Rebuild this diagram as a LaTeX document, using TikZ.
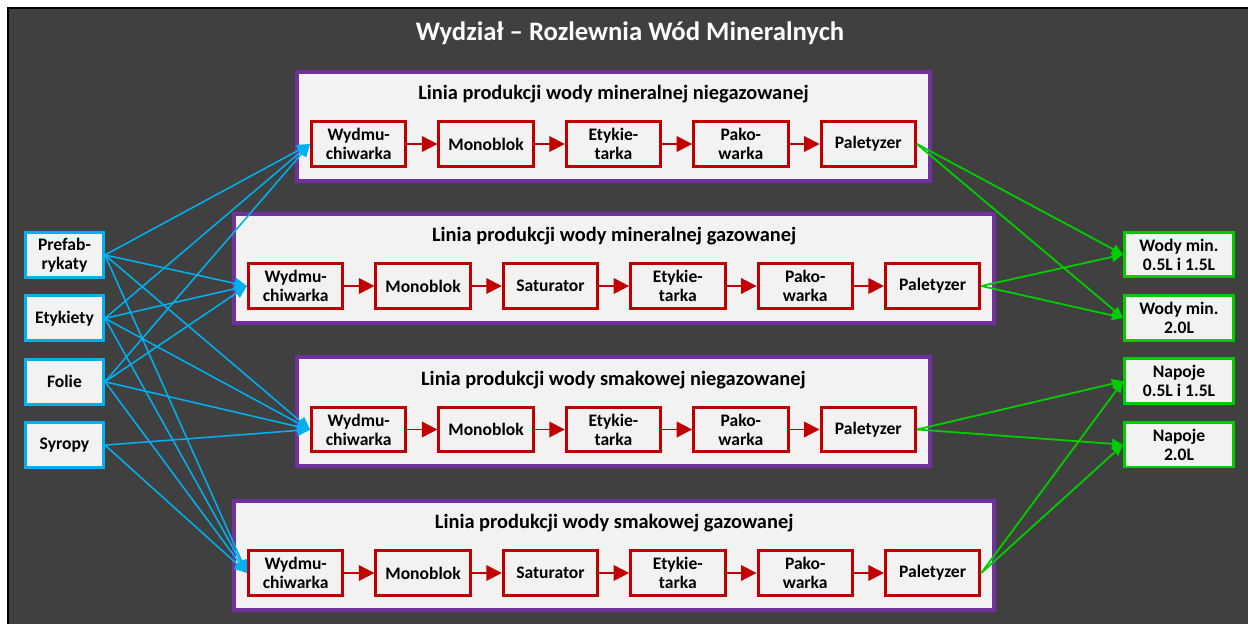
\documentclass[tikz,border=0pt]{standalone}
\usepackage{fontspec}
\setmainfont{Carlito}
\usepackage{xcolor}
\usetikzlibrary{arrows.meta,calc,fit,positioning,backgrounds}
\definecolor{bgdark}{HTML}{404040}
\definecolor{paper}{HTML}{F2F2F2}
\definecolor{lanepurple}{HTML}{7030A0}
\definecolor{machred}{HTML}{C00000}
\definecolor{feedblue}{HTML}{00B0F0}
\definecolor{prodgreen}{HTML}{00CC00}
\tikzset{
  box/.style={draw,fill=paper,line width=2.1pt,inner sep=1pt,align=center,
              text=black,font=\fontsize{12.5}{13.5}\selectfont\bfseries},
  machine/.style={box,draw=machred,minimum width=2.36cm,minimum height=1.12cm},
  feedbox/.style={box,draw=feedblue,minimum width=1.95cm,minimum height=1.12cm},
  prodbox/.style={box,draw=prodgreen,minimum width=2.72cm,minimum height=1.12cm},
  lane/.style={draw=lanepurple,fill=paper,line width=2.8pt,inner sep=0.325cm},
  lanetitle/.style={inner sep=0pt,font=\fontsize{14.5}{16}\selectfont\bfseries},
  stepflow/.style={-{Triangle[length=11pt,width=11pt]},line width=1.4pt,draw=machred},
  feedflow/.style={-{Triangle[length=9pt,width=8pt]},line width=1.1pt,draw=feedblue},
  prodflow/.style={-{Triangle[length=8pt,width=7pt]},line width=1.3pt,draw=prodgreen}
}

\begin{document}
\begin{tikzpicture}[x=0.025cm,y=-0.025cm,node distance=0.39cm and 0.75cm]
    \useasboundingbox (0,0) rectangle (1248,624);
    \node[font=\fontsize{19}{22}\selectfont\bfseries,text=white] (title) at (630,33) {Wydział – Rozlewnia Wód Mineralnych};
    % linia 1
    \node[machine,anchor=west] (wy1) at (310,144) {Wydmu-\\chiwarka};
    \node[machine,right=of wy1] (mo1) {Monoblok};
    \node[machine,right=of mo1] (et1) {Etykie-\\tarka};
    \node[machine,right=of et1] (pk1) {Pako-\\warka};
    \node[machine,right=of pk1] (pa1) {Paletyzer};
    \node[lanetitle] (tl1) at ($(wy1.north)!0.5!(pa1.north)+(0,-26)$) {Linia produkcji wody mineralnej niegazowanej};
    % linia 2
    \node[machine,anchor=west] (wy2) at (247,286) {Wydmu-\\chiwarka};
    \node[machine,right=of wy2] (mo2) {Monoblok};
    \node[machine,right=of mo2] (sa2) {Saturator};
    \node[machine,right=of sa2] (et2) {Etykie-\\tarka};
    \node[machine,right=of et2] (pk2) {Pako-\\warka};
    \node[machine,right=of pk2] (pa2) {Paletyzer};
    \node[lanetitle] (tl2) at ($(wy2.north)!0.5!(pa2.north)+(0,-26)$) {Linia produkcji wody mineralnej gazowanej};
    % linia 3
    \node[machine,anchor=west] (wy3) at (310,429.5) {Wydmu-\\chiwarka};
    \node[machine,right=of wy3] (mo3) {Monoblok};
    \node[machine,right=of mo3] (et3) {Etykie-\\tarka};
    \node[machine,right=of et3] (pk3) {Pako-\\warka};
    \node[machine,right=of pk3] (pa3) {Paletyzer};
    \node[lanetitle] (tl3) at ($(wy3.north)!0.5!(pa3.north)+(0,-26)$) {Linia produkcji wody smakowej niegazowanej};
    % linia 4
    \node[machine,anchor=west] (wy4) at (247,573) {Wydmu-\\chiwarka};
    \node[machine,right=of wy4] (mo4) {Monoblok};
    \node[machine,right=of mo4] (sa4) {Saturator};
    \node[machine,right=of sa4] (et4) {Etykie-\\tarka};
    \node[machine,right=of et4] (pk4) {Pako-\\warka};
    \node[machine,right=of pk4] (pa4) {Paletyzer};
    \node[lanetitle] (tl4) at ($(wy4.north)!0.5!(pa4.north)+(0,-26)$) {Linia produkcji wody smakowej gazowanej};
    % surowce i wyroby
    \node[feedbox] (pre) at (64.5,255) {Prefab-\\rykaty};
    \node[feedbox,below=of pre] (ety) {Etykiety};
    \node[feedbox,below=of ety] (fol) {Folie};
    \node[feedbox,below=of fol] (syr) {Syropy};
    \node[prodbox] (wm1) at (1179,254.5) {Wody min.\\0.5L i 1.5L};
    \node[prodbox,below=of wm1] (wm2) {Wody min.\\2.0L};
    \node[prodbox,below=of wm2] (np1) {Napoje\\0.5L i 1.5L};
    \node[prodbox,below=of np1] (np2) {Napoje\\2.0L};
    \begin{scope}[on background layer]
      \fill[bgdark] (8,8) rectangle (1260,640);
      \draw[black,line width=1.2pt] (8,640) -- (8,8) -- (1260,8);
      \node[lane,fit=(wy1)(pa1)(tl1)] (ln1) {};
      \node[lane,fit=(wy2)(pa2)(tl2)] (ln2) {};
      \node[lane,fit=(wy3)(pa3)(tl3)] (ln3) {};
      \node[lane,fit=(wy4)(pa4)(tl4)] (ln4) {};
    \end{scope}
    \draw[stepflow] (wy1)--(mo1); \draw[stepflow] (mo1)--(et1); \draw[stepflow] (et1)--(pk1); \draw[stepflow] (pk1)--(pa1);
    \draw[stepflow] (wy2)--(mo2); \draw[stepflow] (mo2)--(sa2); \draw[stepflow] (sa2)--(et2); \draw[stepflow] (et2)--(pk2); \draw[stepflow] (pk2)--(pa2);
    \draw[stepflow] (wy3)--(mo3); \draw[stepflow] (mo3)--(et3); \draw[stepflow] (et3)--(pk3); \draw[stepflow] (pk3)--(pa3);
    \draw[stepflow] (wy4)--(mo4); \draw[stepflow] (mo4)--(sa4); \draw[stepflow] (sa4)--(et4); \draw[stepflow] (et4)--(pk4); \draw[stepflow] (pk4)--(pa4);
    \draw[feedflow] (pre.east)--(wy1.west); \draw[feedflow] (pre.east)--(wy2.west); \draw[feedflow] (pre.east)--(wy3.west); \draw[feedflow] (pre.east)--(wy4.west);
    \draw[feedflow] (ety.east)--(wy1.west); \draw[feedflow] (ety.east)--(wy2.west); \draw[feedflow] (ety.east)--(wy3.west); \draw[feedflow] (ety.east)--(wy4.west);
    \draw[feedflow] (fol.east)--(wy1.west); \draw[feedflow] (fol.east)--(wy2.west); \draw[feedflow] (fol.east)--(wy3.west); \draw[feedflow] (fol.east)--(wy4.west);
    \draw[feedflow] (syr.east)--(wy3.west); \draw[feedflow] (syr.east)--(wy4.west);
    \draw[prodflow] (pa1.east)--(wm1.west); \draw[prodflow] (pa1.east)--(wm2.west);
    \draw[prodflow] (pa2.east)--(wm1.west); \draw[prodflow] (pa2.east)--(wm2.west);
    \draw[prodflow] (pa3.east)--(np1.west); \draw[prodflow] (pa3.east)--(np2.west);
    \draw[prodflow] (pa4.east)--(np1.west); \draw[prodflow] (pa4.east)--(np2.west);
  \end{tikzpicture}
\end{document}
